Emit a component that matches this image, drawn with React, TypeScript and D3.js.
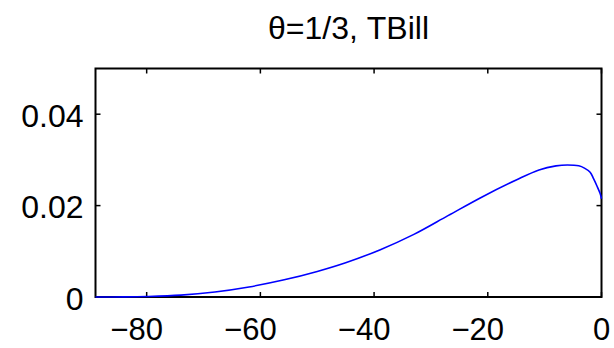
import React, { useEffect, useRef } from "react";
import * as d3 from "d3";

const title = "θ=1/3, TBill";
const xValues = [-89, -84, -80, -74, -68, -62, -56, -50, -45, -39, -33, -27, -21, -15, -11, -8, -6, -4, -3, -2, -1.4, -0.8, -0.2, 0];
const yValues = [0, 0.00002, 0.0001, 0.0004, 0.0011, 0.0022, 0.0037, 0.0056, 0.0075, 0.0103, 0.0137, 0.0178, 0.0219, 0.0256, 0.0278, 0.0287, 0.0289, 0.0287, 0.0282, 0.0273, 0.0259, 0.0243, 0.0225, 0.0215];
const xTicks = [-80, -60, -40, -20, 0];
const yTicks = [0, 0.02, 0.04];
const yTickLabels = ["0", "0.02", "0.04"];
const xDomain = [-89, 0];
const yDomain = [0, 0.05];

export default function App() {
  const ref = useRef<SVGSVGElement>(null);
  useEffect(() => {
    const svg = d3.select(ref.current);
    svg.selectAll("*").remove();
    const L = 95.5, R = 601.5, T = 68.5, B = 297;
    const x = d3.scaleLinear().domain(xDomain).range([L, R]);
    const y = d3.scaleLinear().domain(yDomain).range([B, T]);
    const font = "'Liberation Sans', Arial, Helvetica, sans-serif";

    svg.append("rect").attr("x", 0).attr("y", 0).attr("width", 614).attr("height", 348).attr("fill", "#fff");

    // box
    svg.append("rect").attr("x", L).attr("y", T).attr("width", R - L).attr("height", B - T)
      .attr("fill", "none").attr("stroke", "#000").attr("stroke-width", 2);

    const tl = 5;
    xTicks.forEach(t => {
      const px = x(t);
      svg.append("line").attr("x1", px).attr("x2", px).attr("y1", B).attr("y2", B - tl).attr("stroke", "#000").attr("stroke-width", 1.5);
      svg.append("line").attr("x1", px).attr("x2", px).attr("y1", T).attr("y2", T + tl).attr("stroke", "#000").attr("stroke-width", 1.5);
      svg.append("text").attr("x", px + (t < 0 ? -10 : 0)).attr("y", 340).attr("text-anchor", "middle")
        .attr("font-family", font).attr("font-size", 31).text(t < 0 ? "\u2212" + Math.abs(t) : String(t));
    });
    yTicks.forEach((t, i) => {
      const py = y(t);
      svg.append("line").attr("x1", L).attr("x2", L + tl).attr("y1", py).attr("y2", py).attr("stroke", "#000").attr("stroke-width", 1.5);
      svg.append("line").attr("x1", R).attr("x2", R - tl).attr("y1", py).attr("y2", py).attr("stroke", "#000").attr("stroke-width", 1.5);
      svg.append("text").attr("x", 83.5).attr("y", py + 12.5).attr("text-anchor", "end")
        .attr("font-family", font).attr("font-size", 32).text(yTickLabels[i]);
    });

    const data = xValues.map((v, i) => [v, yValues[i]] as [number, number]);
    const line = d3.line<[number, number]>().x(d => x(d[0])).y(d => y(d[1])).curve(d3.curveCatmullRom.alpha(0.5));
    svg.append("path").attr("d", line(data)!).attr("fill", "none").attr("stroke", "#0000ff").attr("stroke-width", 1.6);

    svg.append("text").attr("x", (L + R) / 2).attr("y", 39).attr("text-anchor", "middle")
      .attr("font-family", font).attr("font-size", 32).text(title);
  }, []);
  return <svg ref={ref} width={614} height={348} style={{ position: "absolute", left: 0, top: 0, display: "block" }} />;
}
